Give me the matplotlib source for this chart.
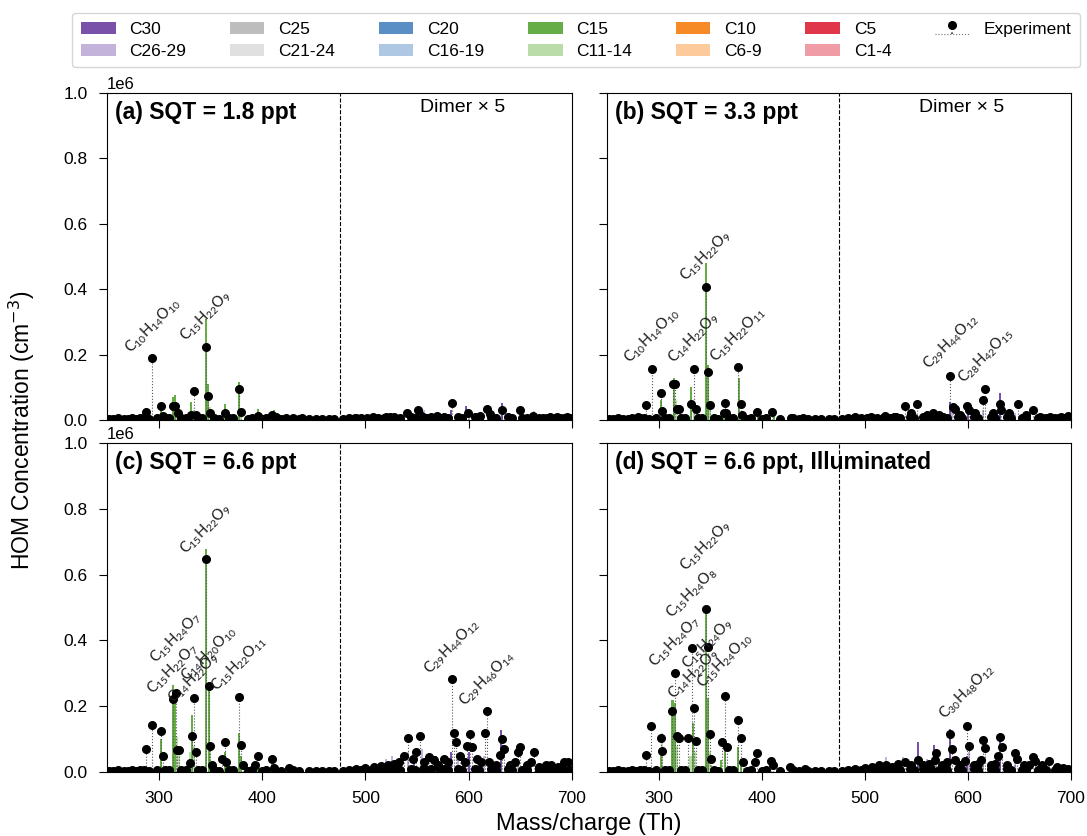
import re
import numpy as np
import matplotlib
matplotlib.use("Agg")
import matplotlib.pyplot as plt
from matplotlib.patches import Patch

plt.rcParams['font.family'] = ['Liberation Sans', 'DejaVu Sans']

# ---------------- data (values as read on the y axis, in 1e6 cm^-3; dimer range shown x5) -------------
categories = ['C30', 'C26-29', 'C25', 'C21-24', 'C20', 'C16-19',
              'C15', 'C11-14', 'C10', 'C6-9', 'C5', 'C1-4']
cat_colors = ['#7a51a8', '#c3b3da', '#bdbdbd', '#e0e0e0', '#5a8fc6', '#aec8e3',
              '#66ad47', '#b9dca9', '#f58a26', '#fdca9b', '#e1374b', '#f09ca6']

titles = ['(a) SQT = 1.8 ppt', '(b) SQT = 3.3 ppt',
          '(c) SQT = 6.6 ppt', '(d) SQT = 6.6 ppt, Illuminated']

# low-level signals seen along the baseline in every panel
base_mz = [252, 256, 261, 266, 270, 274, 278, 282, 286, 291, 298, 306, 310, 322, 326, 338,
           342, 354, 358, 368, 372, 386, 390, 400, 404, 418, 430, 436, 445, 452, 458, 465,
           470, 478, 484, 490, 496, 502, 507, 512, 518, 524, 528, 534, 544, 548, 556, 560,
           564, 572, 576, 580, 590, 594, 606, 610, 622, 626, 638, 642, 652, 656, 668, 672,
           676, 684, 688, 692, 698]
base_val = [0.004, 0.003, 0.005, 0.004, 0.003, 0.005, 0.004, 0.006, 0.005, 0.004, 0.006,
            0.005, 0.006, 0.005, 0.006, 0.005, 0.006, 0.005, 0.004, 0.006, 0.005, 0.004,
            0.005, 0.004, 0.005, 0.004, 0.005, 0.004, 0.003, 0.004, 0.003, 0.004, 0.003,
            0.004, 0.005, 0.006, 0.005, 0.006, 0.007, 0.006, 0.007, 0.006, 0.008, 0.007,
            0.008, 0.007, 0.008, 0.007, 0.008, 0.007, 0.008, 0.007, 0.008, 0.007, 0.008,
            0.007, 0.008, 0.007, 0.008, 0.007, 0.006, 0.007, 0.006, 0.007, 0.006, 0.007,
            0.006, 0.007, 0.006]

# ---- panel (a)
a_exp_mz = [288, 294, 302, 304, 314, 316, 319, 331, 334, 336, 346, 348, 350, 364, 378, 380,
            396, 410, 414, 423, 439,
            491, 507, 520, 524, 540, 551, 553, 569, 584, 599, 611, 618, 621, 632, 650, 662,
            679, 685, 695]
a_exp_val = [0.025, 0.189, 0.044, 0.013, 0.044, 0.044, 0.020, 0.015, 0.090, 0.015, 0.224,
             0.073, 0.022, 0.022, 0.094, 0.025, 0.012, 0.015, 0.008, 0.005, 0.005,
             0.006, 0.008, 0.010, 0.008, 0.022, 0.030, 0.015, 0.012, 0.053, 0.020, 0.012,
             0.033, 0.018, 0.030, 0.030, 0.012, 0.010, 0.008, 0.010]
a_c15_mz = [302, 314, 316, 331, 346, 348, 364, 378, 396, 412]
a_c15_val = [0.045, 0.070, 0.076, 0.056, 0.309, 0.110, 0.050, 0.115, 0.035, 0.030]
a_c1114_mz = [318, 334, 350, 380]
a_c1114_val = [0.030, 0.030, 0.040, 0.030]
a_c30_mz = [583, 597, 632]
a_c30_val = [0.030, 0.044, 0.051]
a_c2629_mz = [557, 600, 620, 645, 663]
a_c2629_val = [0.030, 0.020, 0.020, 0.015, 0.028]
a_lab_text = ['C10H14O10', 'C15H22O9']
a_lab_mz = [294, 346]
a_lab_dy = [1, 1]

# ---- panel (b)
b_exp_mz = [280, 288, 294, 302, 303.5, 314, 316, 318, 320, 331, 334, 336, 346, 348, 350,
            363, 364, 365, 377, 380, 381, 395, 410, 428, 440,
            491, 506, 520, 530, 539, 545, 551, 560, 566, 572, 583, 585.6, 587.5, 592, 599,
            601, 607, 615, 617, 624, 631, 632, 640, 649, 656, 663, 670, 680, 690, 697]
b_exp_val = [0.008, 0.046, 0.157, 0.082, 0.028, 0.110, 0.110, 0.035, 0.035, 0.050, 0.157,
             0.035, 0.408, 0.146, 0.045, 0.020, 0.051, 0.020, 0.161, 0.048, 0.014, 0.023,
             0.025, 0.006, 0.005,
             0.008, 0.010, 0.012, 0.010, 0.044, 0.020, 0.048, 0.015, 0.020, 0.015, 0.135,
             0.041, 0.035, 0.015, 0.044, 0.030, 0.020, 0.061, 0.096, 0.020, 0.048, 0.032,
             0.020, 0.048, 0.015, 0.030, 0.010, 0.010, 0.008, 0.012]
b_c15_mz = [302, 315, 331.6, 346, 348, 363, 378, 396, 412]
b_c15_val = [0.060, 0.127, 0.102, 0.479, 0.168, 0.030, 0.127, 0.030, 0.030]
b_c1114_mz = [317, 334, 350]
b_c1114_val = [0.060, 0.040, 0.040]
b_c30_mz = [549, 583, 600, 631]
b_c30_val = [0.020, 0.055, 0.030, 0.083]
b_c2629_mz = [560, 568, 585, 615, 646]
b_c2629_val = [0.020, 0.020, 0.040, 0.030, 0.020]
b_lab_text = ['C10H14O10', 'C14H22O9', 'C15H22O9', 'C15H22O11', 'C29H44O12', 'C28H42O15']
b_lab_mz = [294, 334, 346, 377, 583, 617]
b_lab_dy = [1, 1, 1, 1, 2, 1]

# ---- panel (c)
c_exp_mz = [288, 294, 302, 304, 314, 316.5, 318, 320, 330, 332, 334, 336.5, 346, 348.5, 350,
            352, 361, 364, 365, 378, 380, 382, 393.5, 396, 410, 412, 426,
            491, 500, 508, 515, 522, 528, 533, 537, 541, 546, 549, 553, 557, 562, 566, 570,
            576, 580, 584, 586, 588, 592, 596, 598, 601, 603, 608, 612, 616, 618, 620, 626,
            630, 632, 634, 640, 645, 648, 650, 656, 660, 663, 668, 675, 680, 686, 692, 696]
c_exp_val = [0.069, 0.143, 0.126, 0.050, 0.221, 0.239, 0.067, 0.067, 0.028, 0.109, 0.226,
             0.060, 0.647, 0.261, 0.078, 0.020, 0.040, 0.091, 0.030, 0.229, 0.081, 0.020,
             0.020, 0.050, 0.040, 0.012, 0.012,
             0.010, 0.012, 0.015, 0.018, 0.020, 0.025, 0.030, 0.050, 0.103, 0.040, 0.060,
             0.110, 0.030, 0.045, 0.035, 0.020, 0.040, 0.030, 0.283, 0.120, 0.090, 0.050,
             0.030, 0.080, 0.117, 0.077, 0.040, 0.030, 0.120, 0.185, 0.030, 0.020, 0.052,
             0.101, 0.071, 0.020, 0.030, 0.060, 0.075, 0.020, 0.030, 0.060, 0.015, 0.020,
             0.021, 0.015, 0.030, 0.030]
c_c15_mz = [302, 313.6, 316, 332.5, 346, 348.5, 364, 378, 380, 396, 410]
c_c15_val = [0.100, 0.264, 0.250, 0.173, 0.677, 0.270, 0.060, 0.118, 0.050, 0.030, 0.025]
c_c1114_mz = [318, 320, 330, 334, 350]
c_c1114_val = [0.107, 0.060, 0.060, 0.080, 0.070]
c_c30_mz = [547, 568, 583, 600, 631]
c_c30_val = [0.050, 0.050, 0.060, 0.060, 0.128]
c_c2629_mz = [520, 526, 541, 555, 590, 615, 648]
c_c2629_val = [0.040, 0.050, 0.060, 0.070, 0.040, 0.050, 0.040]
c_lab_text = ['C15H24O7', 'C15H22O7', 'C14H22O9', 'C14H20O10', 'C15H22O9', 'C15H22O11',
              'C29H44O12', 'C29H46O14']
c_lab_mz = [316.5, 314, 334, 348.5, 346, 378, 584, 618]
c_lab_dy = [19, 1, -7, 1, 1, 1, 1, 1]

# ---- panel (d)
d_exp_mz = [287.5, 293, 302, 303.5, 313, 316, 317.5, 320, 329, 332, 334, 336, 346, 348,
            349.5, 351, 361.5, 364, 366, 377, 379.5, 382, 393.5, 395, 409.5, 411, 427, 442,
            491, 500, 507, 514, 521, 526, 532, 539, 545, 552, 556, 562, 568, 569.5, 575, 580,
            583, 585, 587.5, 592, 597, 599, 601, 606, 610, 613, 615, 617, 622, 626, 629, 631,
            633, 638, 646, 648, 654, 659, 663.5, 665, 672, 679, 686, 692, 697]
d_exp_val = [0.052, 0.140, 0.102, 0.065, 0.186, 0.302, 0.109, 0.102, 0.102, 0.376, 0.196,
             0.093, 0.494, 0.381, 0.116, 0.040, 0.091, 0.232, 0.076, 0.157, 0.102, 0.030,
             0.030, 0.059, 0.033, 0.020, 0.016, 0.010,
             0.010, 0.012, 0.015, 0.020, 0.020, 0.015, 0.025, 0.031, 0.020, 0.037, 0.020,
             0.025, 0.037, 0.057, 0.020, 0.030, 0.114, 0.069, 0.035, 0.020, 0.034, 0.140,
             0.080, 0.020, 0.025, 0.035, 0.096, 0.073, 0.020, 0.025, 0.050, 0.105, 0.075,
             0.020, 0.059, 0.040, 0.020, 0.020, 0.047, 0.033, 0.020, 0.034, 0.015, 0.012,
             0.010]
d_c15_mz = [302, 313.5, 316, 333, 346, 348, 361, 364, 377, 380]
d_c15_val = [0.070, 0.220, 0.210, 0.148, 0.500, 0.224, 0.035, 0.070, 0.077, 0.040]
d_c1114_mz = [303, 318, 331, 335, 350]
d_c1114_val = [0.120, 0.080, 0.050, 0.060, 0.060]
d_c30_mz = [551.4, 567.5, 582.7, 599, 631]
d_c30_val = [0.092, 0.082, 0.130, 0.050, 0.117]
d_c2629_mz = [520.7, 537, 560, 601, 615, 646]
d_c2629_val = [0.047, 0.047, 0.040, 0.060, 0.040, 0.040]
d_lab_text = ['C15H24O7', 'C14H22O9', 'C15H24O8', 'C15H22O9', 'C15H24O9', 'C15H24O10',
              'C30H48O12']
d_lab_mz = [316, 334, 332, 346, 348, 364, 599]
d_lab_dy = [1, 3, 19, 25, -19, 3, 2]

panels = [
    (a_exp_mz, a_exp_val, a_c15_mz, a_c15_val, a_c1114_mz, a_c1114_val,
     a_c30_mz, a_c30_val, a_c2629_mz, a_c2629_val, a_lab_text, a_lab_mz, a_lab_dy),
    (b_exp_mz, b_exp_val, b_c15_mz, b_c15_val, b_c1114_mz, b_c1114_val,
     b_c30_mz, b_c30_val, b_c2629_mz, b_c2629_val, b_lab_text, b_lab_mz, b_lab_dy),
    (c_exp_mz, c_exp_val, c_c15_mz, c_c15_val, c_c1114_mz, c_c1114_val,
     c_c30_mz, c_c30_val, c_c2629_mz, c_c2629_val, c_lab_text, c_lab_mz, c_lab_dy),
    (d_exp_mz, d_exp_val, d_c15_mz, d_c15_val, d_c1114_mz, d_c1114_val,
     d_c30_mz, d_c30_val, d_c2629_mz, d_c2629_val, d_lab_text, d_lab_mz, d_lab_dy),
]

SCALE = 1e6
DIMER_SPLIT = 475


def formula(s):
    parts = re.findall(r'([A-Z][a-z]?)(\d*)', s)
    out = ''
    for el, n in parts:
        out += el
        if n:
            out += r'$_\mathregular{' + n + '}$'
    return out


fig = plt.figure(figsize=(10.87, 8.36), dpi=100)
W, H = 1087, 836
pos = [(107, 93, 572, 420), (607, 93, 1071, 420),
       (107, 443, 572, 772), (607, 443, 1071, 772)]
axes = []
for (x0, y0, x1, y1) in pos:
    axes.append(fig.add_axes([x0 / W, 1 - y1 / H, (x1 - x0) / W, (y1 - y0) / H]))

stem_handle = None
for i, ax in enumerate(axes):
    (e_mz, e_val, c15m, c15v, c11m, c11v, c30m, c30v, c26m, c26v,
     lab_t, lab_m, lab_dy) = panels[i]
    for mz, val, ci in [(c11m, c11v, 7), (c15m, c15v, 6), (c26m, c26v, 1), (c30m, c30v, 0)]:
        ax.bar(mz, np.array(val) * SCALE, width=2.0, color=cat_colors[ci],
               linewidth=0, zorder=2)
    all_mz = np.array(list(base_mz) + list(e_mz), dtype=float)
    all_val = np.array(list(base_val) + list(e_val), dtype=float) * SCALE
    order = np.argsort(all_mz)
    st = ax.stem(all_mz[order], all_val[order], linefmt=':', markerfmt='o', basefmt=':')
    st.markerline.set_color('black')
    st.markerline.set_markersize(5.5)
    st.markerline.set_zorder(4)
    st.stemlines.set_color('0.35')
    st.stemlines.set_linewidth(0.8)
    st.stemlines.set_zorder(3)
    st.baseline.set_color('0.45')
    st.baseline.set_linewidth(0.8)
    if i == 0:
        st.set_label('Experiment')
        stem_handle = st

    e_mz_arr = np.array(e_mz, dtype=float)
    for t, m, dy in zip(lab_t, lab_m, lab_dy):
        k = int(np.argmin(np.abs(e_mz_arr - m)))
        ax.annotate(formula(t), xy=(e_mz_arr[k], e_val[k] * SCALE),
                    xytext=(0, dy), textcoords='offset points',
                    rotation=45, ha='center', va='bottom', fontsize=10.5,
                    family=['Lato', 'DejaVu Sans'], color='#1a1a1a', zorder=6)

    ax.axvline(DIMER_SPLIT, color='black', ls='--', lw=0.8, zorder=5)
    ax.set_xlim(250, 700)
    ax.set_ylim(0, 1.0e6)
    ax.set_xticks([300, 400, 500, 600, 700])
    ax.set_yticks([0, 0.2e6, 0.4e6, 0.6e6, 0.8e6, 1.0e6])
    ax.tick_params(labelsize=12.5, length=6, pad=8)
    ax.yaxis.offsetText.set_fontsize(12)
    if i in (0, 1):
        ax.tick_params(labelbottom=False)
    if i in (1, 3):
        ax.tick_params(labelleft=False)
        ax.yaxis.offsetText.set_visible(False)
    ax.text(0.017, 0.975, titles[i], transform=ax.transAxes, fontsize=16.5,
            fontweight='bold', va='top', ha='left', zorder=7)
    if i in (0, 1):
        ax.text(594, 0.955e6, 'Dimer \u00d7 5', ha='center', va='center', fontsize=14)

fig.text(0.02, 0.485, 'HOM Concentration (cm$^{-3}$)', rotation=90,
         ha='center', va='center', fontsize=16.5)
fig.text(0.542, 0.014, 'Mass/charge (Th)', ha='center', va='center', fontsize=17)

handles = [Patch(facecolor=c, edgecolor='none', label=l) for l, c in zip(categories, cat_colors)]
handles.append(stem_handle)
fig.legend(handles=handles, loc='upper center', bbox_to_anchor=(0.53, 0.995), ncol=7,
           fontsize=12.5, handlelength=2.0, columnspacing=2.5, labelspacing=0.4,
           frameon=True, edgecolor='0.8', borderpad=0.5)

fig.savefig('out.png', dpi=100)
